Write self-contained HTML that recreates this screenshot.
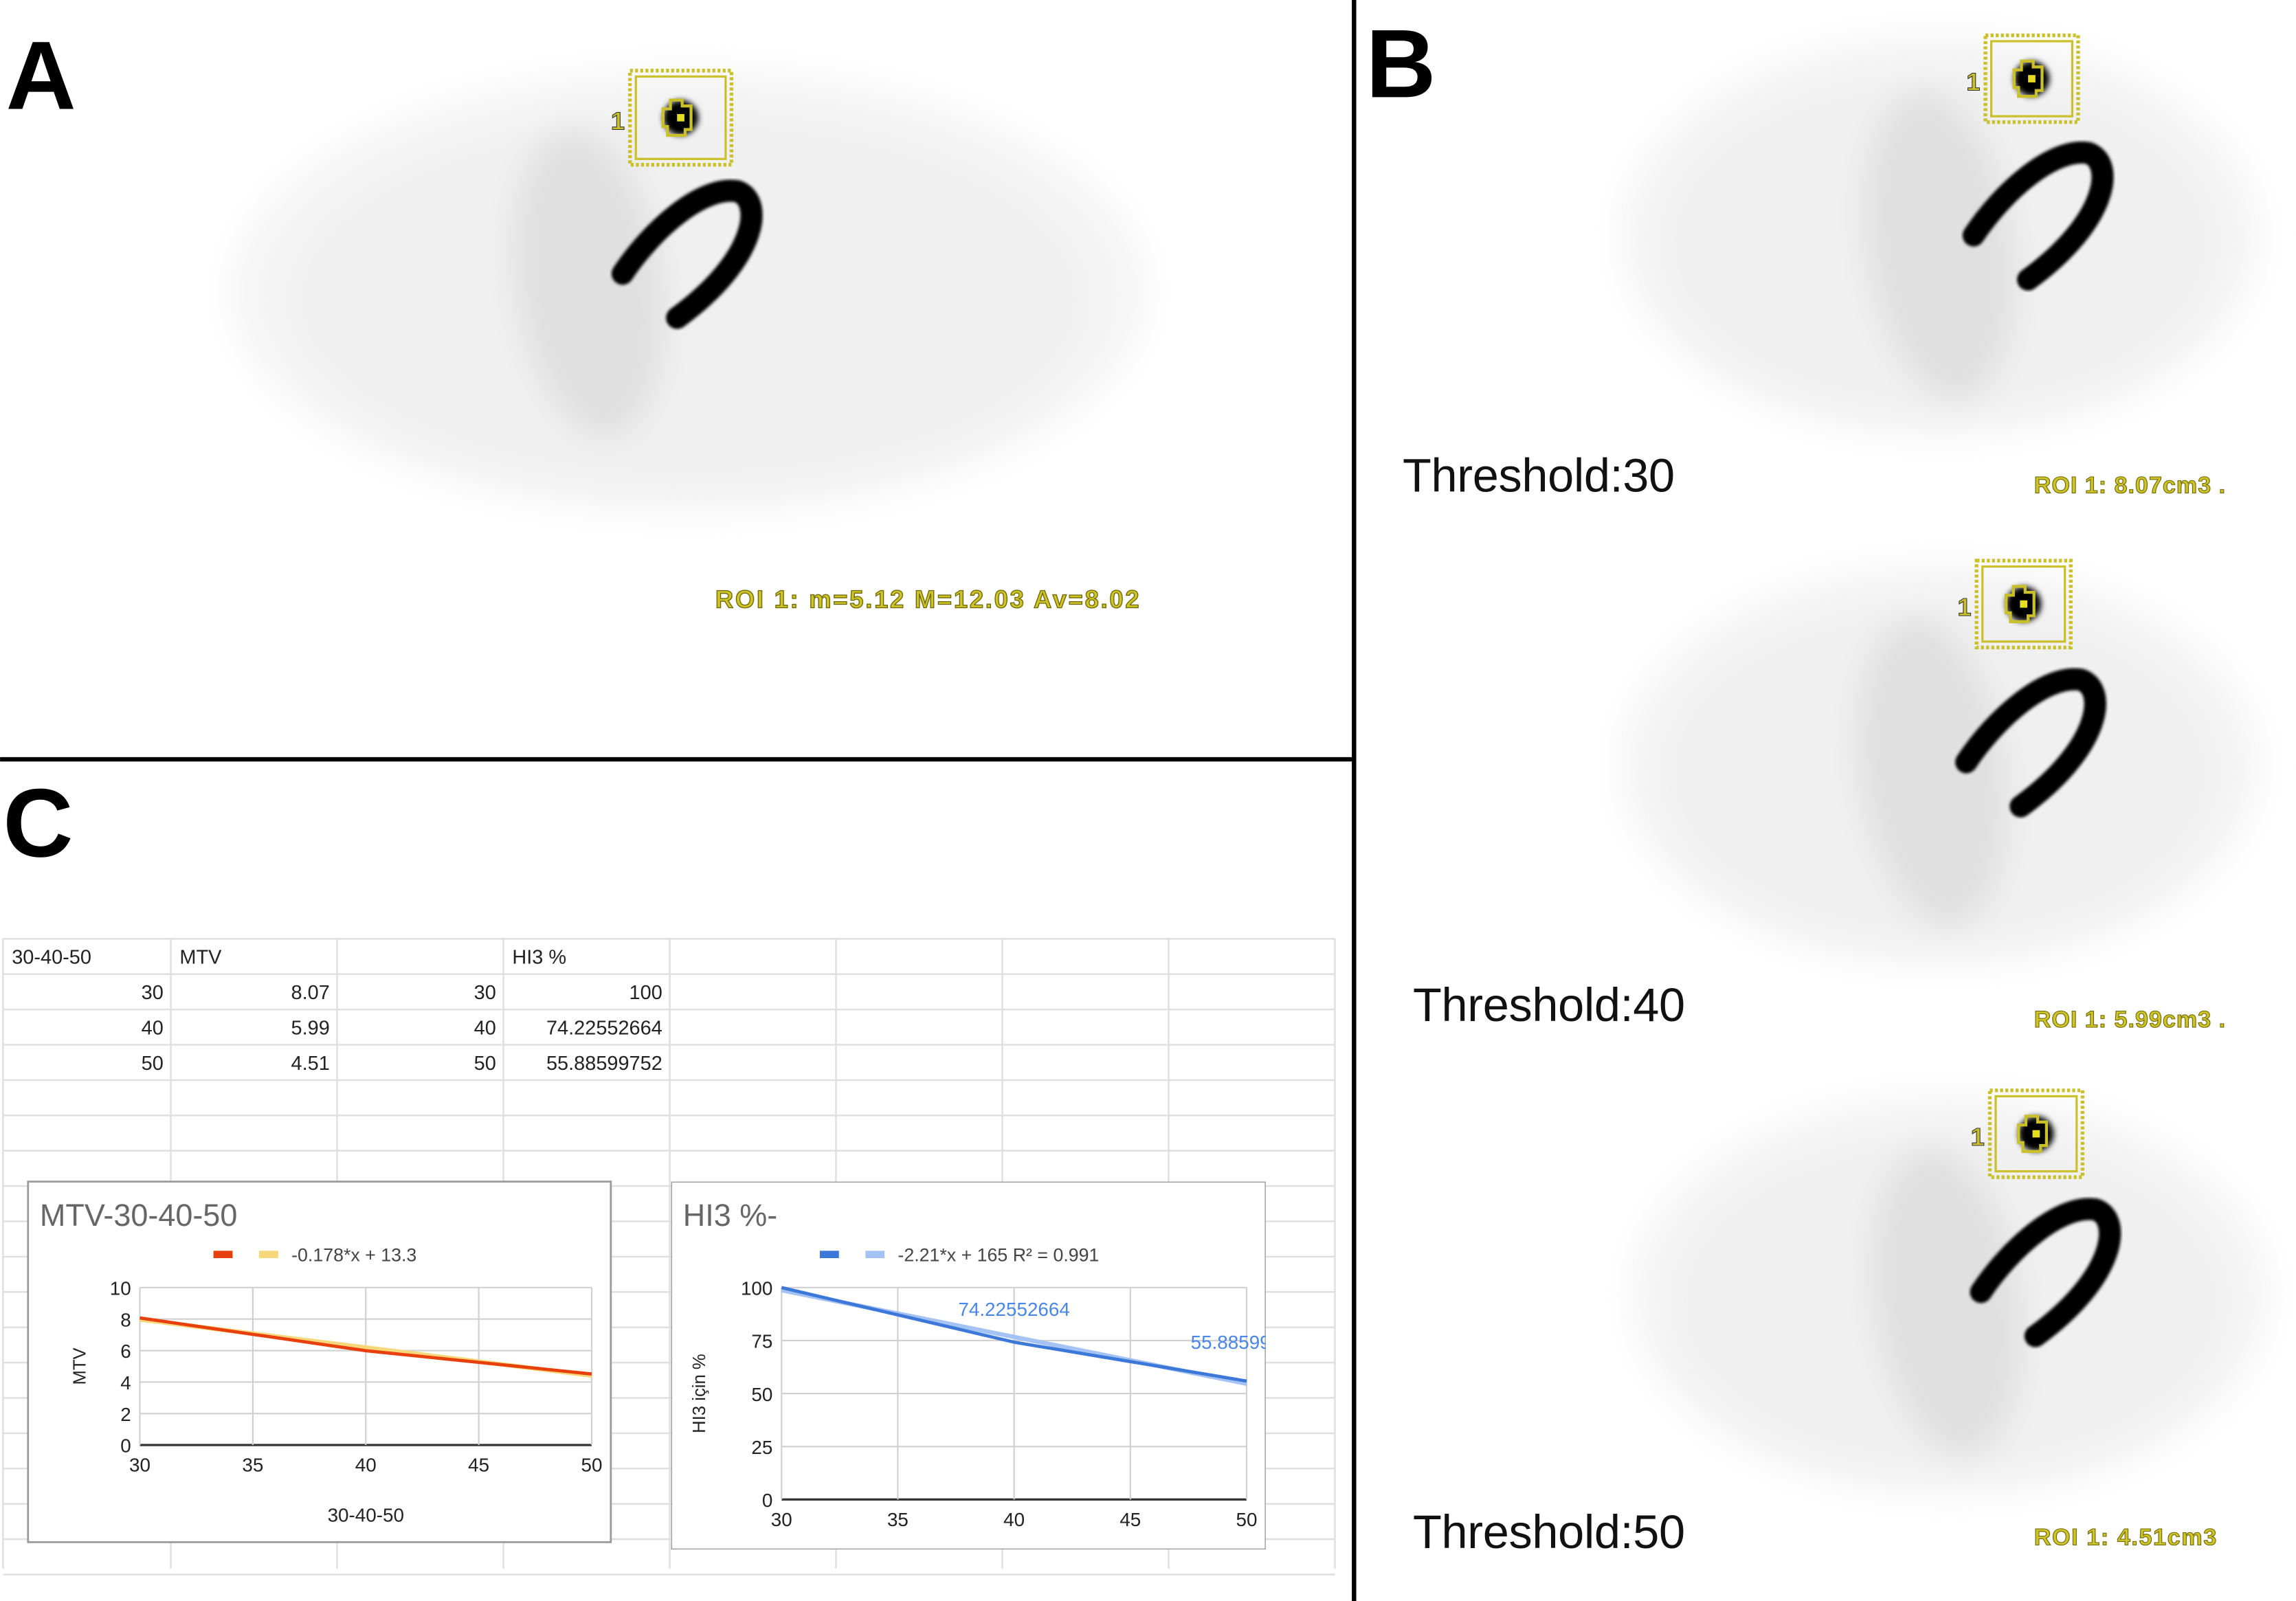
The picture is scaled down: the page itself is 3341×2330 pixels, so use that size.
<!DOCTYPE html>
<html><head><meta charset="utf-8"><style>
html,body{margin:0;padding:0;background:#fff;}
svg{display:block;font-family:"Liberation Sans",sans-serif;}
</style></head><body>
<svg id="fig" width="3341" height="2330" viewBox="0 0 1560 1088" xmlns="http://www.w3.org/2000/svg">
<defs>
<filter id="blur8" x="-30%" y="-30%" width="160%" height="160%"><feGaussianBlur stdDeviation="10"/></filter>
<filter id="blur3" x="-30%" y="-30%" width="160%" height="160%"><feGaussianBlur stdDeviation="2"/></filter>
<filter id="blur1"><feGaussianBlur stdDeviation="1"/></filter>
<clipPath id="c2clip"><rect x="456" y="803" width="404" height="250"/></clipPath>
</defs>
<rect width="1560" height="1088" fill="#fff"/>
<g id="scans"></g>
<line x1="920" y1="0" x2="920" y2="1092" stroke="#000" stroke-width="3"/>
<line x1="0" y1="516" x2="920" y2="516" stroke="#000" stroke-width="3"/>
<text x="4" y="74" font-size="66" font-weight="bold">A</text>
<text x="928" y="66" font-size="66" font-weight="bold">B</text>
<text x="2" y="582" font-size="66" font-weight="bold">C</text>

<text x="486" y="413" font-size="17" font-weight="bold" fill="#cdc42a" stroke="#6b6400" stroke-width="0.6" textLength="288">ROI 1: m=5.12 M=12.03 Av=8.02</text>
<text x="953" y="334" font-size="32" fill="#111" textLength="185">Threshold:30</text>
<text x="960" y="694" font-size="32" fill="#111" textLength="185">Threshold:40</text>
<text x="960" y="1052" font-size="32" fill="#111" textLength="185">Threshold:50</text>
<text x="1382" y="335" font-size="16" font-weight="bold" fill="#cdc42a" stroke="#6b6400" stroke-width="0.5" textLength="130">ROI 1: 8.07cm3 .</text>
<text x="1382" y="698" font-size="16" font-weight="bold" fill="#cdc42a" stroke="#6b6400" stroke-width="0.5" textLength="130">ROI 1: 5.99cm3 .</text>
<text x="1382" y="1050" font-size="16" font-weight="bold" fill="#cdc42a" stroke="#6b6400" stroke-width="0.5" textLength="124">ROI 1: 4.51cm3</text>

<g id="sheet"></g>
<g id="chart1"></g>
<g id="chart2" clip-path="url(#c2clip)"></g>
</svg>
<script>
const thresholds = [30, 40, 50];
const mtvValues = [8.07, 5.99, 4.51];
const hi3Values = [100, 74.22552664, 55.88599752];
const mtvTicks = [0, 2, 4, 6, 8, 10];
const hi3Ticks = [0, 25, 50, 75, 100];
const xTicks = [30, 35, 40, 45, 50];
const sheetRows = [
  ["30-40-50", "MTV", "", "HI3 %"],
  ["30", "8.07", "30", "100"],
  ["40", "5.99", "40", "74.22552664"],
  ["50", "4.51", "50", "55.88599752"]
];
const NS = "http://www.w3.org/2000/svg";
function mk(tag, attrs, parent) {
  const e = document.createElementNS(NS, tag);
  for (const k in attrs) e.setAttribute(k, attrs[k]);
  parent.appendChild(e);
  return e;
}
const scans = document.getElementById('scans');
function scan(cx, cy, rx, ry, hx, hy, boxX, boxY, boxW, boxH, name) {
  const g = mk('g', {}, scans);
  
  
  mk('ellipse', {cx: cx, cy: cy, rx: rx, ry: ry, fill: '#f5f5f5', filter: 'url(#blur8)'}, g);
  mk('ellipse', {cx: cx, cy: cy + 5, rx: rx * 0.88, ry: ry * 0.85, fill: '#f0f0f0', filter: 'url(#blur8)'}, g);
  mk('ellipse', {cx: hx - 15, cy: hy + 75, rx: 50, ry: 105, fill: '#e0e0e0', filter: 'url(#blur8)', transform: `rotate(-8 ${hx - 15} ${hy + 75})`}, g);
  const h = mk('g', {transform: `translate(${hx},${hy})`, filter: 'url(#blur1)'}, g);
  mk('path', {d: 'M8,68 C28,38 62,8 86,12 C104,18 100,58 45,98', fill: 'none', stroke: '#000', 'stroke-width': 15, 'stroke-linecap': 'round'}, h);
  const bx = mk('g', {}, scans);
  
  
  mk('rect', {x: boxX, y: boxY, width: boxW, height: boxH, fill: 'none', stroke: '#c9c02a', 'stroke-width': 2.5, 'stroke-dasharray': '2 1.5'}, bx);
  mk('rect', {x: boxX + 4, y: boxY + 4, width: boxW - 8, height: boxH - 8, fill: 'none', stroke: '#c9c02a', 'stroke-width': 1.5}, bx);
  mk('circle', {cx: boxX + boxW / 2, cy: boxY + boxH / 2, r: 12, fill: '#000', filter: 'url(#blur3)'}, bx);
  mk('path', {d: `M${boxX + boxW / 2 - 12},${boxY + boxH / 2 - 6} h5 v-6 h8 v4 h6 v16 h-4 v4 h-12 v-6 h-3 z`, fill: 'none', stroke: '#c9c02a', 'stroke-width': 2}, bx);
  mk('rect', {x: boxX + boxW / 2 - 2.5, y: boxY + boxH / 2 - 2.5, width: 5, height: 5, fill: '#e6dc20'}, bx);
  const t = mk('text', {x: boxX - 13, y: boxY + boxH / 2 + 8, 'font-size': 17, 'font-weight': 'bold', fill: '#c9c02a', stroke: '#333', 'stroke-width': 0.5}, bx);
  t.textContent = '1';
}
scan(468, 198, 312, 152, 415, 118, 428, 48, 69, 64, 'scan-a');
scan(1318, 160, 218, 138, 1333, 92, 1349, 24, 63, 59, 'scan-b-30');
scan(1318, 520, 218, 138, 1328, 450, 1343, 381, 64, 59, 'scan-b-40');
scan(1325, 880, 218, 138, 1338, 810, 1352, 741, 63, 59, 'scan-b-50');

const sheet = document.getElementById('sheet');


const colX = [2, 116, 229, 342, 455, 568, 681, 794, 907];
for (let i = 0; i < 19; i++) {
  const y = 638 + i * 24;
  const l = mk('line', {x1: 2, y1: y, x2: 907, y2: y, stroke: '#e0e0e0', 'stroke-width': 1.2}, sheet);
  
  
}
colX.forEach(x => {
  const l = mk('line', {x1: x, y1: 638, x2: x, y2: 1066, stroke: '#e0e0e0', 'stroke-width': 1.2}, sheet);
  
  
});
sheetRows.forEach((row, r) => {
  row.forEach((v, c) => {
    if (!v) return;
    const y = 655 + r * 24;
    const right = r > 0;
    const t = mk('text', {x: right ? colX[c + 1] - 5 : colX[c] + 6, y: y, 'font-size': 13.5, fill: '#222', 'text-anchor': right ? 'end' : 'start'}, sheet);
    
    
    t.textContent = v;
  });
});

function fit(xs, ys) {
  const n = xs.length, mx = xs.reduce((a, b) => a + b) / n, my = ys.reduce((a, b) => a + b) / n;
  let sxy = 0, sxx = 0;
  xs.forEach((x, i) => { sxy += (x - mx) * (ys[i] - my); sxx += (x - mx) * (x - mx); });
  const m = sxy / sxx; return [m, my - m * mx];
}
function chart(gid, box, plot, yTicks, yMax, ys, color, trendColor, title, legendText, legendX, yTitle, xTitle, labels, nameBase) {
  const g = document.getElementById(gid);
  const frame = mk('rect', {x: box[0], y: box[1], width: box[2], height: box[3], fill: '#fff', stroke: '#9a9a9a', 'stroke-width': 1.3}, g);
  
  
  const tt = mk('text', {x: box[0] + 8, y: box[1] + 30, 'font-size': 21, fill: '#666'}, g);
  
  
  tt.textContent = title;
  const ly = box[1] + 50;
  const s1 = mk('rect', {x: legendX, y: ly - 3, width: 13, height: 5, fill: color}, g);
  
  
  const s2 = mk('rect', {x: legendX + 31, y: ly - 3, width: 13, height: 5, fill: trendColor}, g);
  
  
  const lt = mk('text', {x: legendX + 53, y: ly + 4, 'font-size': 12.5, fill: '#444'}, g);
  
  
  lt.textContent = legendText;
  const [px, py, pw, ph] = plot;
  const X = v => px + (v - 30) / 20 * pw;
  const Y = v => py + ph - v / yMax * ph;
  yTicks.forEach(v => {
    const gl = mk('line', {x1: px, y1: Y(v), x2: px + pw, y2: Y(v), stroke: v === 0 ? '#333' : '#d0d0d0', 'stroke-width': v === 0 ? 1.5 : 1}, g);
    
    
    const t = mk('text', {x: px - 6, y: Y(v) + 5, 'font-size': 13, fill: '#222', 'text-anchor': 'end'}, g);
    
    
    t.textContent = v;
  });
  xTicks.forEach(v => {
    const gl = mk('line', {x1: X(v), y1: py, x2: X(v), y2: py + ph, stroke: '#d0d0d0', 'stroke-width': 1}, g);
    
    
    const t = mk('text', {x: X(v), y: py + ph + 18, 'font-size': 13, fill: '#222', 'text-anchor': 'middle'}, g);
    
    
    t.textContent = v;
  });
  const [m, b] = fit(thresholds, ys);
  const tr = mk('line', {x1: X(30), y1: Y(m * 30 + b), x2: X(50), y2: Y(m * 50 + b), stroke: trendColor, 'stroke-width': 3}, g);
  
  
  const pl = mk('polyline', {points: thresholds.map((x, i) => X(x) + ',' + Y(ys[i])).join(' '), fill: 'none', stroke: color, 'stroke-width': 2.2}, g);
  
  
  const yt = mk('text', {x: 0, y: 0, 'font-size': 12, fill: '#222', 'text-anchor': 'middle', transform: `translate(${yTitle[1]},${py + ph / 2}) rotate(-90)`}, g);
  
  
  yt.textContent = yTitle[0];
  if (xTitle) {
    const xt = mk('text', {x: px + pw / 2, y: box[1] + box[3] - 14, 'font-size': 13, fill: '#222', 'text-anchor': 'middle'}, g);
    
    
    xt.textContent = xTitle;
  }
  if (labels) {
    labels.forEach(i => {
      const t = mk('text', {x: X(thresholds[i]), y: Y(ys[i]) - 12, 'font-size': 13, fill: '#4a86e8', 'text-anchor': i === 2 ? 'start' : 'middle', dx: i === 2 ? -38 : 0, dy: i === 2 ? -10 : -6}, g);
      
      
      t.textContent = String(ys[i]).slice(0, 11);
    });
  }
}
chart('chart1', [19, 803, 396, 245], [95, 875, 307, 107], mtvTicks, 10, mtvValues, '#e8400c', '#f6d77a',
  'MTV-30-40-50', '-0.178*x + 13.3', 145, ['MTV', 58], '30-40-50', null, 'mtv-chart');
chart('chart2', [456, 803, 404, 250], [531, 875, 316, 144], hi3Ticks, 100, hi3Values, '#3c78d8', '#a4c2f4',
  'HI3 %-', '-2.21*x + 165 R² = 0.991', 557, ['HI3 için %', 479], null, [1, 2], 'hi3-chart');
</script>
</body></html>
